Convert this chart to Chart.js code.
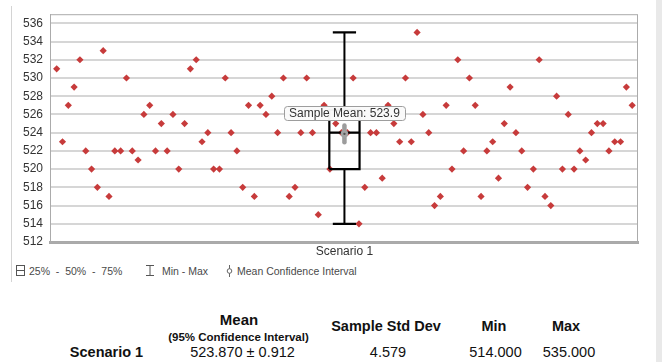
<!DOCTYPE html>
<html>
<head>
<meta charset="utf-8">
<script src="https://cdn.jsdelivr.net/npm/chart.js@4.4.1/dist/chart.umd.min.js"></script>
<style>
  html, body { margin: 0; padding: 0; background: #fff; }
  body { width: 662px; height: 362px; position: relative; overflow: hidden; font-family: "Liberation Sans", Arial, sans-serif; }
  #wrap { position: absolute; left: 0; top: 0; width: 662px; height: 262px; }
  .vl { position: absolute; left: 11px; top: 6px; width: 1px; height: 276px; background: #d4d4d4; }
  .vr { position: absolute; left: 656px; top: 0; width: 6px; height: 362px; background: #e9e9e9; }
  .leg { position: absolute; top: 264px; font-size: 10.5px; color: #4a4a4a; white-space: pre; line-height: 14px; }
  .ico { position: absolute; top: 265px; }
  .t { position: absolute; white-space: pre; transform: translate(-50%, -50%); color: #111; }
  .b { font-weight: bold; }
</style>
</head>
<body>
<div class="vl"></div>
<div class="vr"></div>
<div id="wrap"><canvas id="c" width="662" height="262"></canvas></div>

<svg class="ico" style="left:16px;" width="9" height="11" viewBox="0 0 9 11"><rect x="0.5" y="0.5" width="8" height="10" fill="none" stroke="#555"/><line x1="0" y1="5.5" x2="9" y2="5.5" stroke="#555"/></svg>
<div class="leg" style="left:29px;">25%  -  50%  -  75%</div>
<svg class="ico" style="left:146px;" width="8" height="11" viewBox="0 0 8 11"><line x1="0" y1="0.5" x2="8" y2="0.5" stroke="#555"/><line x1="4" y1="0" x2="4" y2="11" stroke="#555"/><line x1="0" y1="10.5" x2="8" y2="10.5" stroke="#555"/></svg>
<div class="leg" style="left:162px;">Min - Max</div>
<svg class="ico" style="left:226px;" width="7" height="12" viewBox="0 0 7 12"><line x1="3.5" y1="0" x2="3.5" y2="12" stroke="#666"/><circle cx="3.5" cy="6" r="2.3" fill="#fff" stroke="#666"/></svg>
<div class="leg" style="left:237px;">Mean Confidence Interval</div>

<div id="table"></div>

<script>
// ---------------- data ----------------
const categories = ["Scenario 1"];
const sampleValues = [
  531,523,527,529,532,522,520,518,533,517,522,522,530,522,521,526,527,522,525,522,
  526,520,525,531,532,523,524,520,520,530,524,522,518,527,517,527,526,528,524,530,
  517,518,524,530,524,515,527,520,525,524,524,530,514,518,524,524,519,527,525,523,
  530,523,535,526,524,516,517,527,520,532,522,530,527,517,522,523,519,525,529,524,
  522,518,520,532,517,516,528,520,526,520,522,521,524,525,525,522,523,523,529,527
];
const q1Values = [520];
const medianValues = [524];
const q3Values = [526.5];
const minValues = [514];
const maxValues = [535];
const meanValues = [523.870];
const ciValues = [0.912];
const stdDevValues = [4.579];
const yTickValues = [512,514,516,518,520,522,524,526,528,530,532,534,536];

// ---------------- build datasets ----------------
const center = (sampleValues.length - 1) / 2;  // category position on the index axis
const boxHalf = 2.6, capHalf = 2.0;
const c = center;
const i0 = 0;

const datasets = [
  {
    label: 'samples',
    data: sampleValues.map((v, i) => ({ x: i, y: v })),
    pointStyle: 'rectRot', pointRadius: 3.6, pointBorderWidth: 0,
    backgroundColor: '#c73b3b', borderColor: '#c73b3b', showLine: false, order: 10
  },
  {
    label: 'box',
    data: [
      { x: c - boxHalf, y: q1Values[i0] }, { x: c + boxHalf, y: q1Values[i0] },
      { x: c + boxHalf, y: q3Values[i0] }, { x: c - boxHalf, y: q3Values[i0] },
      { x: c - boxHalf, y: q1Values[i0] }
    ],
    showLine: true, borderColor: '#000', borderWidth: 2.2, pointRadius: 0, fill: false, order: 5
  },
  {
    label: 'median',
    data: [{ x: c - boxHalf, y: medianValues[i0] }, { x: c + boxHalf, y: medianValues[i0] }],
    showLine: true, borderColor: '#000', borderWidth: 2.2, pointRadius: 0, order: 5
  },
  {
    label: 'upper whisker',
    data: [{ x: c, y: q3Values[i0] }, { x: c, y: maxValues[i0] }],
    showLine: true, borderColor: '#000', borderWidth: 2, pointRadius: 0, order: 5
  },
  {
    label: 'upper cap',
    data: [{ x: c - capHalf, y: maxValues[i0] }, { x: c + capHalf, y: maxValues[i0] }],
    showLine: true, borderColor: '#000', borderWidth: 2.2, pointRadius: 0, order: 5
  },
  {
    label: 'lower whisker',
    data: [{ x: c, y: minValues[i0] }, { x: c, y: q1Values[i0] }],
    showLine: true, borderColor: '#000', borderWidth: 2, pointRadius: 0, order: 5
  },
  {
    label: 'lower cap',
    data: [{ x: c - capHalf, y: minValues[i0] }, { x: c + capHalf, y: minValues[i0] }],
    showLine: true, borderColor: '#000', borderWidth: 2.2, pointRadius: 0, order: 5
  },
  {
    label: 'mean CI',
    data: [{ x: c, y: meanValues[i0] - ciValues[i0] }, { x: c, y: meanValues[i0] + ciValues[i0] }],
    showLine: true, borderColor: '#9c9c9c', borderWidth: 4.5, borderCapStyle: 'round', pointRadius: 0, order: 3
  },
  {
    label: 'mean',
    data: [{ x: c, y: meanValues[i0] }],
    showLine: false, pointStyle: 'circle', pointRadius: 3.8,
    backgroundColor: '#a3a3a3', borderColor: '#a3a3a3', pointBorderWidth: 0, order: 2
  },
  {
    label: 'mean dot',
    data: [{ x: c, y: meanValues[i0] }],
    showLine: false, pointStyle: 'circle', pointRadius: 1.2,
    backgroundColor: '#555', borderColor: '#555', pointBorderWidth: 0, order: 1
  }
];

// frame around the plot area
const framePlugin = {
  id: 'frame',
  beforeDatasetsDraw(chart) {
    const a = chart.chartArea, ctx = chart.ctx;
    ctx.save();
    ctx.strokeStyle = '#ababab';
    ctx.lineWidth = 1;
    ctx.strokeRect(a.left + 0.5, a.top + 0.5, a.right - a.left - 1, a.bottom - a.top);
    ctx.restore();
  }
};

// "Sample Mean" label above the mean marker
const meanLabelPlugin = {
  id: 'meanLabel',
  afterDatasetsDraw(chart) {
    const xs = chart.scales.x, ys = chart.scales.y, ctx = chart.ctx;
    const px = xs.getPixelForValue(c);
    const py = ys.getPixelForValue(meanValues[i0]);
    const text = 'Sample Mean: ' + meanValues[i0].toFixed(1);
    ctx.save();
    ctx.font = '12px "Liberation Sans", Arial, sans-serif';
    const w = Math.round(ctx.measureText(text).width + 10);
    const h = 14;
    const left = Math.round(px - w / 2) + 0.5;
    const bottom = Math.round(py - 14) + 0.5;
    const top = bottom - h;
    ctx.beginPath();
    ctx.roundRect(left, top, w, h, 3);
    ctx.fillStyle = 'rgba(250,250,250,0.97)';
    ctx.fill();
    ctx.strokeStyle = '#9d9d9d';
    ctx.lineWidth = 1;
    ctx.stroke();
    ctx.fillStyle = '#333';
    ctx.textAlign = 'center';
    ctx.textBaseline = 'middle';
    ctx.fillText(text, px, top + h / 2 + 0.5);
    ctx.restore();
  }
};

new Chart(document.getElementById('c'), {
  type: 'scatter',
  data: { datasets },
  plugins: [framePlugin, meanLabelPlugin],
  options: {
    responsive: false,
    animation: false,
    events: [],
    layout: { padding: { left: 0, right: 24, top: 13, bottom: 0 } },
    plugins: { legend: { display: false }, tooltip: { enabled: false } },
    scales: {
      x: {
        type: 'linear',
        min: -1.15, max: 100,
        afterBuildTicks: (axis) => { axis.ticks = [{ value: center }]; },
        afterFit: (axis) => { axis.height = 20; },
        grid: { display: false, drawTicks: false },
        border: { display: true, color: '#a9a9a9', width: 3 },
        ticks: {
          callback: () => categories[0],
          font: { family: '"Liberation Sans", Arial, sans-serif', size: 12 },
          color: '#333', padding: 2, maxRotation: 0, autoSkip: false
        }
      },
      y: {
        min: 512, max: 537,
        afterBuildTicks: (axis) => { axis.ticks = yTickValues.map(v => ({ value: v })); },
        afterFit: (axis) => { axis.width = 50; },
        grid: { color: '#d6d6d6', lineWidth: 2, drawTicks: false },
        border: { display: true, color: '#ababab', width: 1 },
        ticks: {
          font: { family: '"Liberation Sans", Arial, sans-serif', size: 12 },
          color: '#333', padding: 7, autoSkip: false
        }
      }
    }
  }
});

// ---------------- summary table ----------------
const cells = [
  ['Mean', 239, 319, 'b', 15],
  ['(95% Confidence Interval)', 238.5, 336.5, 'b', 11.5],
  ['Sample Std Dev', 386, 326, 'b', 14.5],
  ['Min', 494, 326, 'b', 14.5],
  ['Max', 566, 326, 'b', 14.5],
  [categories[0], 106.5, 352, 'b', 14.5],
  [meanValues[0].toFixed(3) + ' \u00b1 ' + ciValues[0].toFixed(3), 242.5, 352, '', 14.5],
  [stdDevValues[0].toFixed(3), 388, 352, '', 14.5],
  [minValues[0].toFixed(3), 495.5, 352, '', 14.5],
  [maxValues[0].toFixed(3), 569, 352, '', 14.5]
];
const tbl = document.getElementById('table');
cells.forEach(([txt, x, y, cls, fs]) => {
  const d = document.createElement('div');
  d.className = 't ' + cls;
  d.style.left = x + 'px';
  d.style.top = y + 'px';
  d.style.fontSize = fs + 'px';
  d.textContent = txt;
  tbl.appendChild(d);
});
</script>
</body>
</html>
